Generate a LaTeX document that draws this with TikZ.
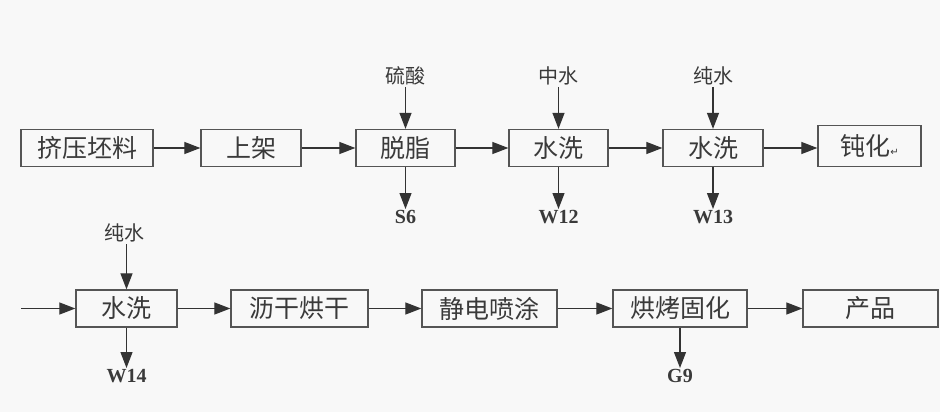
\documentclass[tikz,border=0pt]{standalone}
\usepackage{fontspec}
\setmainfont{Liberation Serif}
\newfontfamily\cjk{Noto Sans CJK SC}[Scale=1]
\newfontfamily\symf{DejaVu Sans}
\usetikzlibrary{arrows.meta}
\definecolor{bgc}{HTML}{F8F8F8}
\definecolor{boxc}{HTML}{555555}
\definecolor{txtc}{HTML}{3A3A3A}
\tikzset{
  procbox/.style={draw=boxc, line width=1.3pt, minimum height=37pt, inner sep=0pt,
    font=\cjk\fontsize{25}{25}\selectfont, text=txtc},
  inlabel/.style={font=\cjk\fontsize{20}{20}\selectfont, text=txtc, inner sep=2pt},
  outlabel/.style={font=\bfseries\fontsize{20}{20}\selectfont, text=txtc, inner sep=1pt},
  flow/.style={draw=black!80, line width=1.2pt, -{Triangle[length=16pt,width=12pt]}}
}
\begin{document}
\begin{tikzpicture}[x=1pt,y=-1pt]
\fill[bgc] (0,0) rectangle (940,412);
\useasboundingbox (0,0) rectangle (940,412);
% row 1
\node[procbox, minimum width=132pt] (a1) at (87,148) {挤压坯料};
\node[procbox, minimum width=100pt] (a2) at (251,148) {上架};
\node[procbox, minimum width=99pt] (a3) at (405.5,148) {脱脂};
\node[procbox, minimum width=99pt] (a4) at (558.5,148) {水洗};
\node[procbox, minimum width=100pt] (a5) at (713,148) {水洗};
\node[procbox, minimum width=103pt, minimum height=41pt] (a6) at (869.5,146) {钝化{\symf\fontsize{10}{10}\selectfont ↵}};
% row 2
\node[procbox, minimum width=101pt] (b1) at (126.5,308.5) {水洗};
\node[procbox, minimum width=137pt] (b2) at (299.5,308.5) {沥干烘干};
\node[procbox, minimum width=135pt] (b3) at (489.5,308.5) {静电喷涂};
\node[procbox, minimum width=134pt] (b4) at (680,308.5) {烘烤固化};
\node[procbox, minimum width=135pt] (b5) at (870.5,308.5) {产品};
% inputs
\node[inlabel, anchor=south] (i3) at (405.5,87) {硫酸};
\node[inlabel, anchor=south] (i4) at (558.5,87) {中水};
\node[inlabel, anchor=south] (i5) at (713,87) {纯水};
\node[inlabel, anchor=south] (i6) at (124,244) {纯水};
% outputs
\node[outlabel, anchor=north] (o3) at (405.5,209) {S6};
\node[outlabel, anchor=north] (o4) at (558.5,209) {W12};
\node[outlabel, anchor=north] (o5) at (713,209) {W13};
\node[outlabel, anchor=north] (o6) at (126.5,368) {W14};
\node[outlabel, anchor=north] (o7) at (680,368) {G9};
\coordinate (start) at (21,308.5);
% flows row 1
\draw[flow] (a1) -- (a2);
\draw[flow] (a2) -- (a3);
\draw[flow] (a3) -- (a4);
\draw[flow] (a4) -- (a5);
\draw[flow] (a5.east) -- (a6.west |- a5.east);
% flows row 2
\draw[flow] (start) -- (b1);
\draw[flow] (b1) -- (b2);
\draw[flow] (b2) -- (b3);
\draw[flow] (b3) -- (b4);
\draw[flow] (b4) -- (b5);
% verticals
\draw[flow] (i3) -- (a3);
\draw[flow] (i4) -- (a4);
\draw[flow] (i5) -- (a5);
\draw[flow] (i6.south -| b1.north) -- (b1);
\draw[flow] (a3) -- (o3);
\draw[flow] (a4) -- (o4);
\draw[flow] (a5) -- (o5);
\draw[flow] (b1) -- (o6);
\draw[flow] (b4) -- (o7);
\end{tikzpicture}
\end{document}
